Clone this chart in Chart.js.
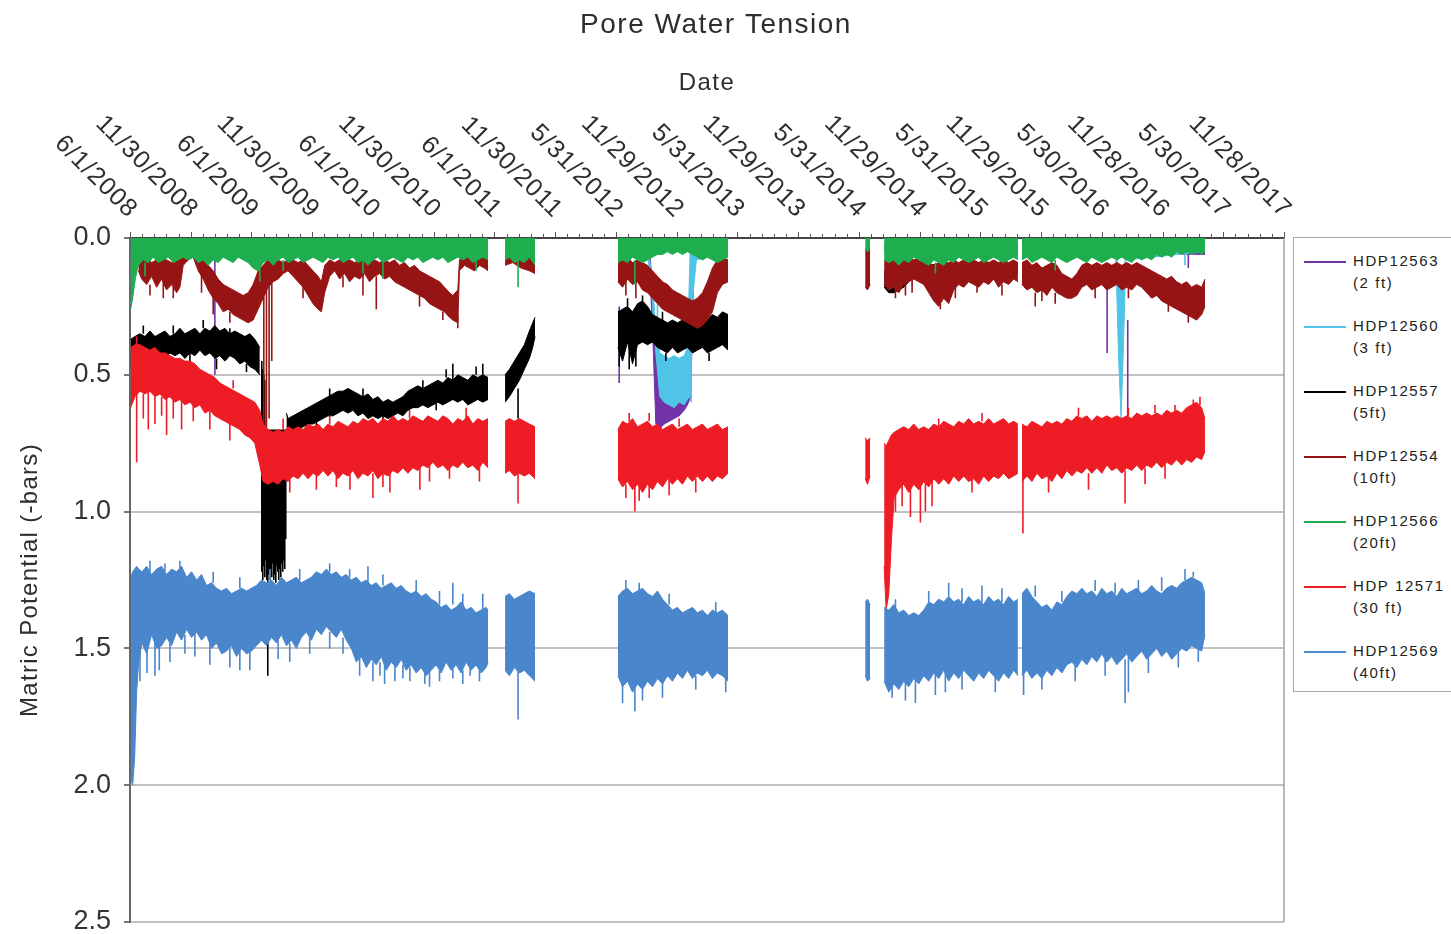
<!DOCTYPE html>
<html>
<head>
<meta charset="utf-8">
<title>Pore Water Tension</title>
<script src="https://cdn.jsdelivr.net/npm/chart.js@4.4.1/dist/chart.umd.min.js"></script>
<style>
  html, body { margin: 0; padding: 0; background: #fff; overflow: hidden; }
  #wrap { position: relative; width: 1451px; height: 934px; }
  #legend {
    position: absolute; left: 1293px; top: 237px; width: 175px; height: 455px;
    border: 1.5px solid #a8a8a8; background: #fff; box-sizing: border-box;
    font-family: "Liberation Sans", Arial, sans-serif; font-size: 15px; color: #222;
    letter-spacing: 1.6px;
  }
  .entry { position: absolute; left: 0; }
  .entry .swatch { position: absolute; left: 10px; top: 0; width: 42px; height: 2px; }
  .entry .name { position: absolute; left: 59px; top: -9px; white-space: nowrap; }
  .entry .depth { position: absolute; left: 59px; top: 13px; white-space: nowrap; }
</style>
</head>
<body>
<div id="wrap">
  <canvas id="chart" width="1451" height="934"></canvas>
  <div id="legend"></div>
</div>
<script>
// x values are days since 6/1/2008; y values are matric potential (-bars)
// band rows: [day, upper edge, lower edge]; null separates logging periods
// spike rows: [day, from, to] for single readings that stick out of the band
const tickLabels = ['6/1/2008', '11/30/2008', '6/1/2009', '11/30/2009', '6/1/2010', '11/30/2010',
  '6/1/2011', '11/30/2011', '5/31/2012', '11/29/2012', '5/31/2013', '11/29/2013', '5/31/2014',
  '11/29/2014', '5/31/2015', '11/29/2015', '5/30/2016', '11/28/2016', '5/30/2017', '11/28/2017'];
const majorStep = 182.5;
const minorStep = 36.5;
const xMaxDay = 3467.5;
const yTicks = [0, 0.5, 1.0, 1.5, 2.0, 2.5];

const seriesNames = ['HDP12563', 'HDP12560', 'HDP12557', 'HDP12554', 'HDP12566', 'HDP 12571', 'HDP12569'];
const seriesDepths = ['(2 ft)', '(3 ft)', '(5ft)', '(10ft)', '(20ft)', '(30 ft)', '(40ft)'];
const seriesColors = ['#7232a8', '#4fc4e6', '#000000', '#961414', '#1eae4e', '#ee1c24', '#4a86cc'];

const band2 = [
  [2,.02,.05],[200,.02,.06],[250,.03,.07],[400,.02,.06],[700,.02,.05],[1076,.02,.06], null,
  [1127,.02,.05],[1217,.02,.06], null,
  [1466,.02,.06],[1560,.03,.06],[1572,.20,.40],[1580,.40,.68],[1590,.55,.70],[1605,.57,.68],[1620,.58,.67],
  [1635,.56,.66],[1650,.55,.65],[1665,.54,.63],[1675,.52,.61],[1685,.30,.58],[1695,.03,.06],[1797,.02,.05], null,
  [2266,.02,.05],[2668,.02,.06], null,
  [2680,.02,.05],[3230,.02,.06]
];
const spikes2 = [[255,.08,.50],[1470,.25,.53],[2936,.10,.42],[2998,.30,.70],[3180,.04,.11]];

const band3 = [
  [2,.03,.24],[10,.03,.20],[20,.02,.12],[30,.02,.06],[300,.02,.05],[700,.02,.06],[1076,.02,.05], null,
  [1127,.02,.05],[1217,.02,.05], null,
  [1466,.02,.05],[1555,.02,.06],[1568,.14,.20],[1580,.34,.42],[1592,.42,.58],[1605,.43,.60],[1620,.44,.61],
  [1635,.43,.62],[1650,.44,.60],[1665,.43,.61],[1675,.40,.59],[1683,.05,.58],[1692,.04,.20],[1702,.03,.08],[1797,.02,.05], null,
  [2266,.02,.05],[2668,.02,.05], null,
  [2680,.02,.05],[2962,.02,.06],[2970,.12,.42],[2978,.15,.66],[2985,.18,.40],[2992,.04,.08],[3230,.02,.05]
];
const spikes3 = [[1686,.05,.60],[1572,.20,.34],[1585,.22,.40],[3170,.03,.10]];

const band5 = [
  [2,.37,.46],[15,.36,.44],[30,.35,.43],[45,.36,.42],[60,.34,.44],[75,.36,.43],[90,.35,.42],[105,.34,.44],
  [120,.36,.42],[135,.35,.43],[150,.33,.42],[165,.35,.44],[180,.34,.42],[195,.33,.43],[210,.35,.41],[225,.33,.43],
  [240,.34,.42],[255,.32,.44],[270,.34,.43],[285,.33,.45],[300,.35,.43],[315,.34,.44],[330,.35,.46],[345,.36,.45],
  [360,.35,.47],[375,.37,.48],[390,.40,.50], null,
  [470,.64,.71],[475,.66,.71],[490,.65,.70],[505,.64,.70],
  [520,.63,.69],[535,.62,.68],[550,.61,.68],[565,.60,.67],[580,.59,.66],[595,.58,.65],[610,.57,.65],[625,.56,.64],
  [640,.56,.63],[655,.55,.64],[670,.56,.63],[685,.57,.65],[700,.58,.64],[715,.57,.66],[730,.59,.65],[745,.58,.66],
  [760,.60,.65],[775,.59,.66],[790,.60,.65],[805,.59,.64],[820,.58,.65],[835,.56,.63],[850,.55,.62],[865,.54,.62],
  [880,.55,.61],[895,.54,.62],[910,.53,.61],[925,.52,.60],[940,.53,.61],[955,.51,.60],[970,.52,.59],[985,.50,.60],
  [1000,.51,.59],[1015,.52,.61],[1030,.50,.60],[1045,.51,.59],[1060,.50,.60],[1076,.51,.59], null,
  [1127,.50,.60],[1140,.48,.58],[1155,.45,.55],[1170,.42,.52],[1185,.39,.48],[1200,.34,.44],[1210,.31,.40],[1217,.29,.36], null,
  [1466,.27,.40],[1480,.26,.45],[1495,.25,.38],[1510,.27,.46],[1525,.24,.39],[1540,.23,.38],[1555,.25,.39],[1570,.28,.38],
  [1585,.29,.40],[1600,.30,.41],[1615,.31,.42],[1630,.30,.40],[1645,.31,.42],[1660,.30,.41],[1675,.29,.40],[1690,.31,.42],
  [1705,.30,.41],[1720,.29,.40],[1735,.30,.42],[1750,.28,.41],[1765,.29,.40],[1780,.27,.39],[1797,.28,.41], null,
  [2266,.12,.18],[2280,.13,.20],[2295,.14,.20],[2310,.15,.19],[2325,.13,.18],[2340,.11,.16],[2360,.09,.14],[2400,.10,.14],
  [2450,.09,.13],[2500,.10,.14],[2550,.09,.13],[2600,.10,.14],[2668,.09,.13]
];
const spikes5 = [
  [396,.45,1.22],[399,.48,1.25],[402,.50,1.20],[405,.52,1.24],[408,.70,1.18],[411,.70,1.25],[414,.70,1.60],[417,.70,1.23],
  [420,.70,1.25],[423,.70,1.21],[426,.70,1.24],[429,.70,1.19],[432,.70,1.25],[435,.70,1.23],[438,.70,1.26],[441,.70,1.20],
  [444,.70,1.22],[447,.70,1.25],[450,.70,1.21],[453,.70,1.24],[456,.70,1.19],[459,.70,1.22],[462,.70,1.18],[465,.70,1.21],
  [468,.70,1.10],
  [40,.35,.32],[130,.35,.32],[220,.33,.30],[300,.35,.33],[70,.43,.47],[180,.42,.46],[260,.44,.48],[350,.46,.49],
  [600,.58,.55],[700,.58,.55],[880,.55,.52],[950,.51,.48],[1040,.50,.47],[1060,.50,.46],[560,.67,.70],[760,.65,.68],
  [920,.60,.63],[970,.52,.46],[1166,.55,.66],[1470,.40,.47],[1500,.40,.48],[1520,.39,.47],[1495,.25,.22],
  [1540,.23,.21],[1600,.30,.27],[1700,.30,.27],[1610,.42,.45],[1740,.42,.45]];

const band10 = [
  [25,.06,.12],[35,.08,.15],[50,.07,.17],[65,.09,.14],[80,.08,.18],[95,.07,.15],[110,.08,.19],[125,.09,.17],
  [140,.08,.20],[150,.07,.18],[160,.05,.10],[175,.04,.08],[190,.04,.07],[205,.06,.12],[220,.08,.15],[235,.10,.19],
  [250,.12,.22],[265,.15,.24],[280,.17,.27],[295,.18,.26],[310,.19,.28],[325,.20,.29],[340,.21,.30],[355,.20,.31],
  [370,.17,.30],[385,.12,.26],[400,.10,.22],[415,.08,.18],[430,.09,.16],[445,.08,.15],[460,.09,.13],[475,.08,.12],
  [490,.08,.14],[505,.09,.16],[520,.08,.18],[535,.10,.21],[550,.12,.24],[565,.14,.26],[575,.16,.27],[585,.10,.20],
  [600,.08,.14],[615,.09,.12],[630,.08,.15],[645,.07,.13],[660,.08,.16],[675,.09,.14],[690,.08,.15],[705,.07,.13],
  [720,.09,.16],[735,.08,.14],[750,.09,.13],[765,.08,.15],[780,.09,.14],[795,.08,.16],[810,.10,.17],[825,.09,.18],
  [840,.11,.19],[855,.10,.20],[870,.12,.21],[885,.13,.22],[900,.14,.24],[915,.15,.25],[930,.16,.26],[945,.18,.27],
  [960,.20,.29],[970,.21,.30],[985,.19,.31],[990,.08,.12],[1005,.06,.10],[1020,.07,.11],[1035,.06,.12],[1050,.07,.10],
  [1065,.06,.11],[1076,.07,.12], null,
  [1127,.06,.10],[1150,.07,.09],[1175,.06,.11],[1200,.07,.12],[1217,.08,.13], null,
  [1466,.07,.16],[1480,.08,.18],[1495,.07,.15],[1510,.09,.17],[1525,.08,.16],[1540,.09,.19],[1555,.10,.20],[1570,.12,.22],
  [1585,.14,.24],[1600,.16,.26],[1615,.17,.27],[1630,.19,.28],[1645,.20,.29],[1660,.21,.30],[1675,.22,.31],[1690,.23,.32],
  [1705,.22,.33],[1720,.20,.32],[1735,.16,.30],[1750,.11,.27],[1765,.08,.20],[1780,.07,.17],[1797,.08,.16], null,
  [2209,.04,.18],[2216,.05,.19],[2224,.04,.17], null,
  [2266,.08,.17],[2280,.09,.19],[2295,.08,.18],[2310,.09,.20],[2325,.08,.17],[2340,.07,.16],[2355,.08,.15],[2370,.07,.16],
  [2385,.08,.17],[2400,.09,.20],[2415,.10,.23],[2430,.09,.25],[2445,.10,.22],[2460,.09,.24],[2475,.08,.19],[2490,.09,.17],
  [2505,.08,.18],[2520,.09,.16],[2535,.08,.17],[2550,.09,.18],[2565,.08,.16],[2580,.09,.17],[2595,.08,.15],[2610,.09,.18],
  [2625,.08,.16],[2640,.09,.17],[2655,.08,.15],[2668,.09,.16], null,
  [2680,.09,.17],[2695,.08,.19],[2710,.10,.18],[2725,.09,.20],[2740,.11,.19],[2755,.10,.21],[2770,.09,.18],[2785,.10,.20],
  [2800,.13,.21],[2815,.14,.22],[2830,.15,.22],[2845,.13,.21],[2860,.10,.18],[2875,.09,.17],[2890,.10,.19],[2905,.09,.18],
  [2920,.10,.17],[2935,.09,.19],[2950,.10,.18],[2965,.09,.17],[2980,.10,.19],[2995,.09,.18],[3010,.10,.19],[3025,.09,.17],
  [3040,.10,.18],[3055,.11,.20],[3070,.12,.22],[3085,.13,.21],[3100,.14,.23],[3115,.15,.24],[3130,.14,.25],[3145,.16,.26],
  [3160,.17,.27],[3175,.16,.28],[3190,.18,.29],[3205,.17,.30],[3220,.18,.28],[3230,.15,.25]
];
const spikes10 = [[100,.15,.22],[215,.12,.20],[250,.20,.28],[402,.10,.72],[410,.12,.80],[418,.10,.66],[426,.15,.45],
  [520,.15,.22],[700,.13,.21],[740,.14,.26],[985,.28,.33],[2300,.18,.22],[2330,.16,.21],[2435,.24,.26],[2545,.17,.20],
  [2720,.20,.25],[2740,.19,.23],[3120,.24,.27],[60,.17,.21],[130,.18,.22],[300,.27,.31],[640,.14,.18],[870,.21,.25],
  [940,.27,.30],[1490,.15,.21],[1520,.16,.22],[2350,.15,.20],[2480,.18,.22],[2620,.17,.21],[2780,.20,.24],[2900,.18,.22],
  [3000,.18,.22],[3180,.28,.31]];

const band20 = [
  [2,0,.26],[8,0,.22],[15,0,.15],[25,0,.10],[40,0,.08],[55,0,.09],[70,0,.07],[85,0,.09],[100,0,.08],[115,0,.07],
  [130,0,.09],[145,0,.08],[160,0,.07],[175,0,.08],[190,0,.07],[205,0,.09],[220,0,.08],[235,0,.10],[250,0,.08],[265,0,.09],
  [280,0,.07],[295,0,.08],[310,0,.09],[325,0,.07],[340,0,.08],[355,0,.09],[370,0,.11],[385,0,.12],[400,0,.09],[415,0,.08],
  [430,0,.10],[445,0,.08],[460,0,.07],[475,0,.09],[490,0,.08],[505,0,.07],[520,0,.09],[535,0,.08],[550,0,.07],[565,0,.08],
  [580,0,.09],[595,0,.07],[610,0,.08],[625,0,.07],[640,0,.09],[655,0,.08],[670,0,.07],[685,0,.09],[700,0,.08],[715,0,.10],
  [730,0,.08],[745,0,.07],[760,0,.09],[775,0,.08],[790,0,.07],[805,0,.08],[820,0,.09],[835,0,.07],[850,0,.08],[865,0,.07],
  [880,0,.09],[895,0,.08],[910,0,.07],[925,0,.08],[940,0,.07],[955,0,.09],[970,0,.08],[985,0,.07],[1000,0,.08],[1015,0,.07],
  [1030,0,.09],[1045,0,.08],[1060,0,.07],[1076,0,.08], null,
  [1127,0,.08],[1140,0,.07],[1155,0,.09],[1170,0,.08],[1185,0,.09],[1200,0,.07],[1217,0,.10], null,
  [1466,0,.09],[1480,0,.08],[1495,0,.09],[1510,0,.07],[1525,0,.08],[1540,0,.09],[1555,0,.08],[1570,0,.07],[1585,0,.06],
  [1600,0,.06],[1615,0,.05],[1630,0,.06],[1645,0,.05],[1660,0,.06],[1675,0,.05],[1690,0,.06],[1705,0,.07],[1720,0,.08],
  [1735,0,.07],[1750,0,.08],[1765,0,.09],[1780,0,.08],[1797,0,.07], null,
  [2209,0,.04],[2216,0,.05],[2224,0,.04], null,
  [2266,0,.08],[2280,0,.09],[2295,0,.08],[2310,0,.10],[2325,0,.08],[2340,0,.09],[2355,0,.07],[2370,0,.08],[2385,0,.09],
  [2400,0,.10],[2415,0,.08],[2430,0,.09],[2445,0,.10],[2460,0,.08],[2475,0,.09],[2490,0,.07],[2505,0,.08],[2520,0,.09],
  [2535,0,.08],[2550,0,.07],[2565,0,.09],[2580,0,.08],[2595,0,.07],[2610,0,.08],[2625,0,.09],[2640,0,.08],[2655,0,.07],
  [2668,0,.08], null,
  [2680,0,.08],[2695,0,.07],[2710,0,.09],[2725,0,.08],[2740,0,.07],[2755,0,.08],[2770,0,.09],[2785,0,.07],[2800,0,.08],
  [2815,0,.09],[2830,0,.08],[2845,0,.07],[2860,0,.08],[2875,0,.09],[2890,0,.07],[2905,0,.08],[2920,0,.09],[2935,0,.08],
  [2950,0,.07],[2965,0,.08],[2980,0,.07],[2995,0,.08],[3010,0,.09],[3025,0,.07],[3040,0,.08],[3055,0,.07],[3070,0,.08],
  [3085,0,.06],[3100,0,.07],[3115,0,.06],[3130,0,.07],[3145,0,.05],[3160,0,.06],[3175,0,.05],[3190,0,.06],[3205,0,.05],
  [3220,0,.06],[3230,0,.05]
];
const spikes20 = [[45,.09,.14],[390,.10,.16],[460,.08,.12],[700,.08,.13],[760,.08,.15],[1040,.08,.12],[1166,.08,.18],
  [1517,.08,.17],[2420,.09,.13],[2780,.08,.12]];

const band30 = [
  [2,.40,.62],[15,.39,.58],[30,.39,.56],[45,.40,.57],[60,.41,.56],[75,.40,.58],[90,.42,.57],[105,.42,.59],[120,.43,.58],
  [135,.44,.60],[150,.44,.59],[165,.45,.61],[180,.45,.60],[195,.46,.62],[210,.48,.61],[225,.49,.64],[240,.50,.63],
  [255,.51,.65],[270,.53,.66],[285,.54,.67],[300,.55,.68],[315,.56,.69],[330,.57,.70],[345,.58,.72],[360,.59,.73],
  [375,.60,.75],[390,.63,.83],[400,.68,.89],[415,.70,.90],[430,.71,.89],[445,.70,.90],[460,.71,.88],[475,.69,.89],
  [490,.70,.87],[505,.69,.88],[520,.70,.86],[535,.68,.88],[550,.69,.86],[565,.68,.87],[580,.70,.85],[595,.68,.87],
  [610,.69,.85],[625,.67,.88],[640,.68,.86],[655,.69,.87],[670,.67,.85],[685,.68,.88],[700,.66,.86],[715,.67,.87],
  [730,.66,.85],[745,.68,.88],[760,.66,.86],[775,.67,.87],[790,.65,.85],[805,.67,.86],[820,.66,.84],[835,.67,.86],
  [850,.65,.84],[865,.66,.85],[880,.67,.83],[895,.65,.84],[910,.66,.82],[925,.67,.84],[940,.65,.83],[955,.66,.85],
  [970,.68,.83],[985,.66,.84],[1000,.67,.82],[1015,.65,.84],[1030,.68,.83],[1045,.66,.85],[1060,.67,.82],[1076,.66,.84], null,
  [1127,.67,.86],[1140,.66,.85],[1155,.67,.87],[1170,.66,.86],[1185,.67,.87],[1200,.68,.86],[1217,.69,.88], null,
  [1466,.70,.88],[1480,.67,.91],[1495,.68,.89],[1510,.66,.92],[1525,.69,.90],[1540,.68,.93],[1555,.67,.90],[1570,.69,.92],
  [1585,.68,.89],[1600,.70,.91],[1615,.69,.88],[1630,.68,.90],[1645,.70,.88],[1660,.69,.90],[1675,.68,.87],[1690,.70,.89],
  [1705,.69,.87],[1720,.68,.89],[1735,.70,.87],[1750,.69,.89],[1765,.68,.87],[1780,.70,.88],[1797,.69,.86], null,
  [2209,.73,.88],[2216,.74,.90],[2224,.73,.87], null,
  [2266,.75,1.20],[2272,.76,1.36],[2280,.74,1.30],[2288,.72,1.10],[2296,.71,.95],[2310,.70,.92],[2325,.69,.90],[2340,.70,.93],
  [2355,.68,.90],[2370,.70,.92],[2385,.69,.89],[2400,.70,.91],[2415,.68,.88],[2430,.69,.90],[2445,.67,.88],[2460,.68,.90],
  [2475,.69,.87],[2490,.67,.89],[2505,.68,.87],[2520,.66,.89],[2535,.68,.88],[2550,.67,.90],[2565,.68,.87],[2580,.66,.89],
  [2595,.68,.87],[2610,.67,.88],[2625,.66,.86],[2640,.68,.88],[2655,.67,.87],[2668,.68,.86], null,
  [2680,.68,.89],[2695,.69,.87],[2710,.67,.89],[2725,.68,.86],[2740,.69,.88],[2755,.67,.87],[2770,.68,.89],[2785,.67,.86],
  [2800,.68,.88],[2815,.66,.85],[2830,.67,.87],[2845,.65,.85],[2860,.66,.86],[2875,.65,.84],[2890,.67,.86],[2905,.65,.84],
  [2920,.66,.86],[2935,.65,.83],[2950,.66,.85],[2965,.65,.84],[2980,.66,.86],[2995,.65,.84],[3010,.66,.85],[3025,.64,.83],
  [3040,.65,.85],[3055,.64,.83],[3070,.65,.84],[3085,.64,.82],[3100,.65,.84],[3115,.63,.82],[3130,.64,.83],[3145,.63,.81],
  [3160,.64,.83],[3175,.62,.81],[3190,.61,.82],[3205,.60,.80],[3220,.62,.81],[3230,.66,.78]
];
const spikes30 = [[20,.55,.82],[55,.56,.70],[75,.56,.68],[110,.58,.72],[155,.59,.70],[661,.86,.92],[730,.86,.95],
  [781,.85,.93],[871,.84,.92],[1166,.86,.97],[1490,.90,.95],[1517,.90,1.0],[1560,.90,.95],[1500,.67,.64],[2300,.92,1.0],
  [2320,.90,.98],[2345,.90,1.02],[2375,.90,1.04],[2390,.89,1.0],[2410,.88,.98],[2530,.88,.93],[2683,.88,1.08],
  [2990,.85,.97],[3195,.62,.59],[3140,.64,.61],
  [40,.57,.66],[95,.58,.65],[130,.59,.66],[190,.61,.67],[240,.63,.70],[300,.68,.74],[480,.88,.93],[560,.86,.92],
  [620,.87,.91],[760,.86,.91],[900,.83,.89],[960,.84,.88],[1050,.84,.89],[20,.39,.36],[310,.55,.52],[460,.70,.66],
  [600,.68,.65],[840,.66,.63],[1010,.66,.62],[1530,.90,.96],[1620,.88,.94],[1700,.88,.93],[1560,.67,.64],[1650,.69,.66],
  [2760,.87,.93],[2880,.86,.92],[3050,.84,.90],[3110,.82,.88],[2850,.65,.62],[3000,.65,.62],[3080,.64,.61],[3215,.61,.58],
  [2430,.69,.66],[2560,.67,.64]];

const band40 = [
  [2,1.24,1.98],[8,1.22,2.0],[14,1.21,1.90],[20,1.20,1.66],[26,1.21,1.55],[36,1.22,1.48],[50,1.20,1.52],[65,1.23,1.45],
  [80,1.21,1.50],[95,1.20,1.49],[110,1.23,1.46],[125,1.21,1.49],[140,1.22,1.44],[155,1.20,1.47],[170,1.24,1.43],
  [185,1.22,1.46],[200,1.25,1.44],[215,1.23,1.47],[230,1.27,1.45],[245,1.26,1.50],[260,1.28,1.48],[275,1.29,1.52],
  [290,1.28,1.51],[305,1.30,1.49],[320,1.29,1.53],[335,1.28,1.50],[350,1.29,1.52],[365,1.28,1.51],[380,1.27,1.49],
  [395,1.25,1.47],[410,1.26,1.49],[425,1.25,1.46],[440,1.27,1.48],[455,1.24,1.45],[470,1.26,1.49],[485,1.25,1.47],
  [500,1.24,1.50],[515,1.26,1.46],[530,1.25,1.44],[545,1.24,1.47],[560,1.22,1.43],[575,1.23,1.45],[590,1.21,1.42],
  [605,1.23,1.44],[620,1.22,1.46],[635,1.24,1.43],[650,1.23,1.47],[665,1.25,1.50],[680,1.24,1.55],[695,1.26,1.53],
  [710,1.25,1.57],[725,1.27,1.54],[740,1.26,1.56],[755,1.28,1.53],[770,1.27,1.58],[785,1.26,1.55],[800,1.28,1.57],
  [815,1.27,1.54],[830,1.29,1.58],[845,1.30,1.56],[860,1.29,1.59],[875,1.31,1.57],[890,1.30,1.60],[905,1.32,1.58],
  [920,1.33,1.56],[935,1.35,1.59],[950,1.34,1.55],[965,1.36,1.58],[980,1.35,1.56],[995,1.33,1.59],[1010,1.36,1.55],
  [1025,1.35,1.58],[1040,1.37,1.56],[1055,1.36,1.59],[1070,1.35,1.57],[1076,1.36,1.55], null,
  [1127,1.31,1.58],[1140,1.30,1.60],[1155,1.32,1.57],[1170,1.31,1.59],[1185,1.30,1.58],[1200,1.29,1.60],[1217,1.30,1.62], null,
  [1466,1.31,1.60],[1480,1.29,1.64],[1495,1.28,1.62],[1510,1.30,1.66],[1525,1.29,1.63],[1540,1.28,1.65],[1555,1.30,1.62],
  [1570,1.31,1.64],[1585,1.29,1.61],[1600,1.32,1.63],[1615,1.34,1.60],[1630,1.36,1.62],[1645,1.35,1.59],[1660,1.37,1.61],
  [1675,1.36,1.58],[1690,1.35,1.61],[1705,1.37,1.59],[1720,1.36,1.60],[1735,1.38,1.58],[1750,1.36,1.61],[1765,1.37,1.59],
  [1780,1.36,1.60],[1797,1.38,1.62], null,
  [2209,1.33,1.60],[2216,1.32,1.62],[2224,1.34,1.61], null,
  [2266,1.35,1.62],[2280,1.36,1.66],[2295,1.34,1.63],[2310,1.37,1.65],[2325,1.36,1.62],[2340,1.38,1.64],[2355,1.37,1.61],
  [2370,1.38,1.63],[2385,1.36,1.60],[2400,1.33,1.62],[2415,1.34,1.59],[2430,1.32,1.61],[2445,1.33,1.58],[2460,1.31,1.62],
  [2475,1.33,1.59],[2490,1.32,1.61],[2505,1.34,1.58],[2520,1.31,1.60],[2535,1.33,1.62],[2550,1.32,1.59],[2565,1.34,1.61],
  [2580,1.31,1.58],[2595,1.33,1.60],[2610,1.32,1.62],[2625,1.34,1.59],[2640,1.31,1.61],[2655,1.33,1.58],[2668,1.32,1.60], null,
  [2680,1.30,1.60],[2695,1.28,1.58],[2710,1.31,1.61],[2725,1.33,1.59],[2740,1.35,1.61],[2755,1.34,1.58],[2770,1.36,1.60],
  [2785,1.33,1.57],[2800,1.34,1.59],[2815,1.31,1.56],[2830,1.29,1.55],[2845,1.30,1.57],[2860,1.28,1.54],[2875,1.30,1.56],
  [2890,1.29,1.53],[2905,1.31,1.55],[2920,1.28,1.52],[2935,1.30,1.55],[2950,1.29,1.53],[2965,1.31,1.56],[2980,1.28,1.54],
  [2995,1.30,1.52],[3010,1.29,1.55],[3025,1.28,1.53],[3040,1.30,1.51],[3055,1.29,1.54],[3070,1.27,1.52],[3085,1.29,1.50],
  [3100,1.30,1.53],[3115,1.28,1.51],[3130,1.27,1.54],[3145,1.28,1.52],[3160,1.26,1.50],[3175,1.25,1.51],[3190,1.24,1.49],
  [3205,1.25,1.50],[3220,1.26,1.51],[3230,1.30,1.45]
];
const spikes40 = [[51,1.45,1.59],[75,1.45,1.60],[195,1.44,1.53],[360,1.50,1.58],[730,1.55,1.62],[751,1.55,1.60],
  [796,1.56,1.62],[841,1.57,1.62],[886,1.58,1.63],[970,1.56,1.61],[1022,1.57,1.60],[970,1.34,1.26],[715,1.26,1.20],
  [1166,1.58,1.76],[1517,1.62,1.73],[1790,1.59,1.66],[2290,1.63,1.68],[2330,1.62,1.69],[2360,1.61,1.70],[2420,1.59,1.67],
  [2450,1.58,1.66],[2460,1.31,1.26],[2560,1.33,1.27],[2685,1.58,1.67],[2990,1.54,1.70],[3000,1.52,1.66],[2740,1.60,1.65],
  [2900,1.29,1.25],[3030,1.29,1.25],[3195,1.24,1.22],
  [30,1.50,1.62],[88,1.48,1.58],[120,1.47,1.55],[165,1.45,1.52],[240,1.48,1.56],[300,1.50,1.57],[330,1.50,1.58],
  [445,1.47,1.54],[480,1.48,1.55],[540,1.46,1.52],[600,1.44,1.50],[640,1.46,1.52],[690,1.52,1.60],[765,1.56,1.63],
  [820,1.56,1.61],[900,1.58,1.64],[930,1.58,1.62],[1000,1.58,1.63],[1050,1.58,1.62],
  [60,1.22,1.18],[105,1.22,1.19],[150,1.21,1.18],[250,1.26,1.22],[330,1.28,1.24],[420,1.25,1.21],[510,1.25,1.21],
  [600,1.22,1.19],[660,1.24,1.21],[760,1.27,1.23],[860,1.29,1.25],[930,1.34,1.29],[1000,1.35,1.30],[1060,1.36,1.30],
  [1480,1.63,1.70],[1540,1.64,1.69],[1600,1.62,1.68],[1700,1.60,1.65],[1490,1.29,1.25],[1530,1.29,1.26],[1620,1.34,1.30],
  [1760,1.37,1.33],[2300,1.36,1.32],[2400,1.33,1.29],[2500,1.33,1.28],[2620,1.33,1.28],[2500,1.59,1.65],[2600,1.60,1.66],
  [2720,1.31,1.27],[2800,1.33,1.29],[2960,1.30,1.26],[3100,1.29,1.24],[3170,1.25,1.21],[2840,1.56,1.62],[2930,1.54,1.60],
  [3060,1.53,1.59],[3150,1.51,1.57],[3210,1.50,1.55]];

const seriesBands = [band2, band3, band5, band10, band20, band30, band40];
const seriesSpikes = [spikes2, spikes3, spikes5, spikes10, spikes20, spikes30, spikes40];

const FONT = '"Liberation Sans", Arial, sans-serif';

function splitBlocks(rows) {
  const blocks = [[]];
  rows.forEach(r => { if (r) blocks[blocks.length - 1].push(r); else blocks.push([]); });
  return blocks.filter(b => b.length);
}

const datasets = [];
seriesBands.forEach((rows, i) => {
  const color = seriesColors[i];
  const order = seriesBands.length - i; // later series drawn on top, like the original
  splitBlocks(rows).forEach(block => {
    datasets.push({
      label: seriesNames[i], data: block.map(r => ({ x: r[0], y: r[1] })),
      borderColor: color, borderWidth: i === 4 ? 0 : 1, fill: false, order
    });
    datasets.push({
      label: seriesNames[i], data: block.map(r => ({ x: r[0], y: r[2] })),
      borderColor: color, backgroundColor: color, borderWidth: 1, fill: '-1', order
    });
  });
  const pts = [];
  seriesSpikes[i].forEach(s => pts.push({ x: s[0], y: s[1] }, { x: s[0], y: s[2] }, { x: s[0], y: null }));
  datasets.push({ label: seriesNames[i], data: pts, borderColor: color, borderWidth: 1.6, fill: false, spanGaps: false, order });
});

const decorations = {
  id: 'decorations',
  afterDraw(chart) {
    const { ctx, chartArea: a, scales: { x } } = chart;
    ctx.save();
    // right edge of the plot area
    ctx.strokeStyle = '#a0a0a0';
    ctx.lineWidth = 1.5;
    ctx.beginPath(); ctx.moveTo(a.right, a.top); ctx.lineTo(a.right, a.bottom); ctx.stroke();

    // tick marks above the top date axis
    ctx.strokeStyle = '#555';
    ctx.lineWidth = 1;
    for (let d = 0; d <= xMaxDay + 0.01; d += minorStep) {
      const px = Math.round(x.getPixelForValue(d)) + 0.5;
      const isMajor = Math.abs(d / majorStep - Math.round(d / majorStep)) < 1e-6;
      ctx.beginPath(); ctx.moveTo(px, a.top); ctx.lineTo(px, a.top - (isMajor ? 6 : 4)); ctx.stroke();
    }

    // rotated date labels, ending at their tick
    ctx.fillStyle = '#2e2e2e';
    ctx.font = '25px ' + FONT;
    ctx.letterSpacing = '1px';
    ctx.textAlign = 'right';
    ctx.textBaseline = 'middle';
    tickLabels.forEach((t, i) => {
      const px = x.getPixelForValue(i * majorStep);
      ctx.save();
      ctx.translate(px + 3, a.top - 24);
      ctx.rotate(Math.PI / 4);
      ctx.fillText(t, 0, 0);
      ctx.restore();
    });

    // titles
    ctx.textAlign = 'center';
    ctx.letterSpacing = '1.5px';
    ctx.font = '28px ' + FONT;
    ctx.fillText('Pore Water Tension', 716, 25);
    ctx.font = '24px ' + FONT;
    ctx.fillText('Date', (a.left + a.right) / 2, 83);
    ctx.save();
    ctx.translate(30, (a.top + a.bottom) / 2);
    ctx.rotate(-Math.PI / 2);
    ctx.letterSpacing = '1.3px';
    ctx.fillText('Matric Potential (-bars)', 0, 0);
    ctx.restore();
    ctx.restore();
  }
};

new Chart(document.getElementById('chart'), {
  type: 'line',
  data: { datasets },
  options: {
    responsive: false,
    animation: false,
    events: [],
    elements: { point: { radius: 0 }, line: { tension: 0 } },
    layout: { padding: { left: 0, top: 0, right: 167, bottom: 12 } },
    plugins: { legend: { display: false }, tooltip: { enabled: false }, title: { display: false } },
    scales: {
      x: {
        type: 'linear', position: 'top', min: 0, max: xMaxDay, z: 1,
        grid: { display: false },
        border: { display: true, color: '#444', width: 2 },
        ticks: { display: false, stepSize: majorStep },
        afterFit: s => { s.height = 238; }
      },
      y: {
        type: 'linear', reverse: true, min: 0, max: 2.5,
        afterBuildTicks: s => { s.ticks = yTicks.map(v => ({ value: v })); },
        grid: { color: '#c2c2c2', lineWidth: 2, tickLength: 6, tickColor: '#777' },
        border: { display: true, color: '#666', width: 2 },
        ticks: { font: { size: 27, family: FONT }, color: '#333', padding: 13, callback: v => v.toFixed(1) },
        afterFit: s => { s.width = 130; s.paddingTop = 0; s.paddingBottom = 0; }
      }
    }
  },
  plugins: [decorations]
});

// legend box on the right
const legend = document.getElementById('legend');
seriesNames.forEach((name, i) => {
  const e = document.createElement('div');
  e.className = 'entry';
  e.style.top = (23 + i * 65) + 'px';
  e.innerHTML = `<div class="swatch" style="background:${seriesColors[i]}"></div>
    <div class="name">${name}</div><div class="depth">${seriesDepths[i]}</div>`;
  legend.appendChild(e);
});
</script>
</body>
</html>
